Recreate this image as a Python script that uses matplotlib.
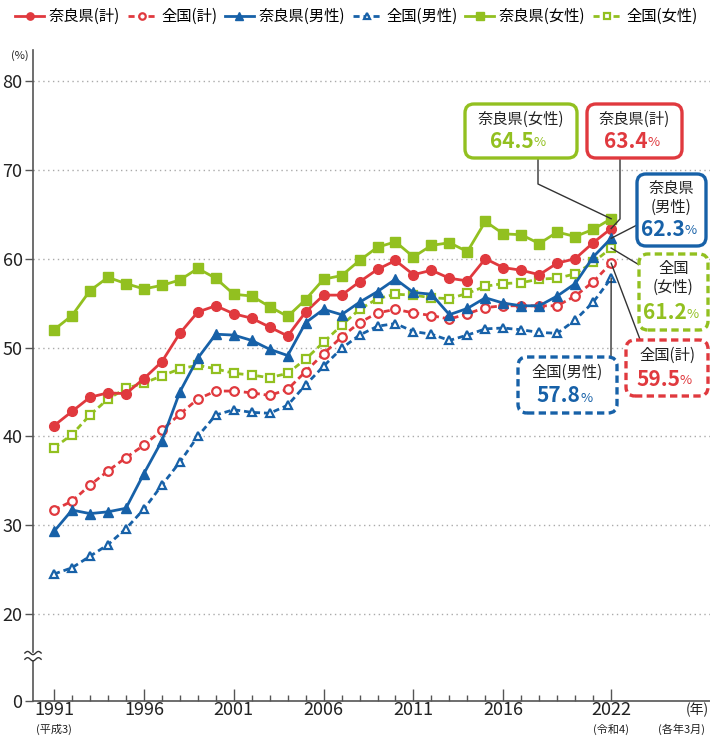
import matplotlib as mp
mp.use('agg')
import matplotlib.pyplot as plt
from matplotlib.lines import Line2D
from matplotlib.patches import FancyBboxPatch, Rectangle
import numpy as np

plt.rcParams['font.family'] = ['Noto Sans CJK JP', 'DejaVu Sans']

# data (%), March of each year
years = list(range(1991, 2023))

nara_total = [41.2, 42.8, 44.4, 44.9, 44.8, 46.5, 48.4, 51.6, 54.0, 54.7,
              53.8, 53.3, 52.3, 51.3, 54.0, 55.9, 55.9, 57.4, 58.8, 59.8,
              58.2, 58.7, 57.8, 57.5, 60.0, 59.0, 58.7, 58.2, 59.5, 60.0,
              61.8, 63.4]
japan_total = [31.7, 32.7, 34.5, 36.1, 37.6, 39.0, 40.7, 42.5, 44.2, 45.1,
               45.1, 44.9, 44.6, 45.3, 47.3, 49.3, 51.2, 52.8, 53.9, 54.3,
               53.9, 53.6, 53.2, 53.8, 54.5, 54.7, 54.7, 54.7, 54.7, 55.8,
               57.4, 59.5]
nara_male = [29.3, 31.7, 31.3, 31.5, 31.9, 35.8, 39.5, 45.0, 48.8, 51.5,
             51.4, 50.8, 49.8, 49.1, 52.8, 54.3, 53.7, 55.1, 56.3, 57.7,
             56.2, 56.0, 53.7, 54.4, 55.6, 55.0, 54.7, 54.7, 55.8, 57.2,
             60.2, 62.3]
japan_male = [24.5, 25.2, 26.5, 27.8, 29.6, 31.8, 34.5, 37.1, 40.0, 42.4,
              43.0, 42.7, 42.6, 43.5, 45.8, 47.9, 49.9, 51.4, 52.4, 52.7,
              51.8, 51.5, 50.8, 51.4, 52.1, 52.2, 52.0, 51.7, 51.6, 53.1,
              55.1, 57.8]
nara_female = [52.0, 53.6, 56.4, 57.9, 57.2, 56.6, 57.0, 57.6, 58.9, 57.8,
               56.0, 55.8, 54.6, 53.5, 55.4, 57.7, 58.1, 59.8, 61.3, 61.9,
               60.2, 61.5, 61.8, 60.8, 64.2, 62.8, 62.7, 61.7, 63.0, 62.5,
               63.3, 64.5]
japan_female = [38.7, 40.2, 42.4, 44.2, 45.4, 46.0, 46.8, 47.6, 48.0, 47.6,
                47.1, 46.9, 46.6, 47.1, 48.7, 50.6, 52.5, 54.3, 55.5, 56.0,
                55.9, 55.6, 55.5, 56.1, 56.9, 57.2, 57.3, 57.7, 57.8, 58.3,
                59.6, 61.2]

labels = ['奈良県(計)', '全国(計)', '奈良県(男性)', '全国(男性)', '奈良県(女性)', '全国(女性)']
major_years = [1991, 1996, 2001, 2006, 2011, 2016, 2022]
ytick_vals = [20, 30, 40, 50, 60, 70, 80]

RED = '#e0393e'
BLUE = '#1761a8'
GREEN = '#92c020'

ZERO_POS = 10.2  # where "0" sits below the axis break

fig = plt.figure(figsize=(7.1, 7.36), dpi=100)
ax = fig.add_axes([33 / 710, 35 / 736, 677 / 710, 651 / 736])

series = [
    (nara_total, RED, 'o', True),
    (japan_total, RED, 'o', False),
    (nara_male, BLUE, '^', True),
    (japan_male, BLUE, '^', False),
    (nara_female, GREEN, 's', True),
    (japan_female, GREEN, 's', False),
]
handles = []
for vals, col, mk, solid in series:
    if solid:
        h, = ax.plot(years, vals, color=col, lw=2.0, marker=mk, ms=7,
                     mfc=col, mec=col, zorder=4, clip_on=False)
    else:
        h, = ax.plot(years, vals, color=col, lw=2.0, marker=mk, ms=6.2,
                     mfc='white', mec=col, mew=1.6, zorder=3,
                     dashes=(2.2, 1.4), clip_on=False)
    handles.append(h)

ax.set_xlim(1989.83, 2027.5)
ax.set_ylim(ZERO_POS, 83.5)

for s in ['top', 'right']:
    ax.spines[s].set_visible(False)
ax.spines['left'].set_color('#555555')
ax.spines['bottom'].set_color('#555555')
ax.spines['left'].set_linewidth(1.2)
ax.spines['bottom'].set_linewidth(1.2)

ax.set_yticks([ZERO_POS] + ytick_vals)
ax.set_yticklabels(['0'] + [str(v) for v in ytick_vals], fontsize=13, color='#222222')
ax.tick_params(axis='y', direction='out', length=6, width=1, color='#555555', pad=1.5)
for v in ytick_vals:
    ax.axhline(v, color='#aaaaaa', lw=1, ls=(0, (1, 2.5)), zorder=1)

ax.set_xticks(major_years)
ax.set_xticklabels([str(y) for y in major_years], fontsize=13, color='#222222')
ax.set_xticks(years, minor=True)
ax.tick_params(axis='x', which='major', direction='in', length=9, width=1, color='#555555', pad=0)
ax.tick_params(axis='x', which='minor', direction='in', length=4, width=1, color='#555555')

# sub labels under the year ticks
xt = ax.get_xaxis_transform()
ax.text(1991, -0.035, '(平成3)', transform=xt, ha='center', va='top', fontsize=8, color='#222222')
ax.text(2022, -0.035, '(令和4)', transform=xt, ha='center', va='top', fontsize=8, color='#222222')
ax.text(2026.8, -0.003, '(年)', transform=xt, ha='center', va='top', fontsize=10, color='#222222')
ax.text(2025.9, -0.035, '(各年3月)', transform=xt, ha='center', va='top', fontsize=8, color='#222222')
fig.text(20 / 710, 1 - 56 / 736, '(%)', ha='center', va='center', fontsize=8, color='#222222')

# axis break mark
tw = ax.get_yaxis_transform()
bx = np.linspace(-0.012, 0.012, 30)
ax.add_patch(Rectangle((-0.012, 14.9), 0.024, 0.7, transform=tw, color='white', zorder=5, clip_on=False))
for yb in (14.9, 15.6):
    ax.plot(bx, yb + 0.18 * np.sin((bx + 0.012) / 0.024 * 2 * np.pi * 1.5), transform=tw,
            color='#333333', lw=1, clip_on=False, zorder=6)

# legend
fig.legend(handles, labels, loc='upper center', bbox_to_anchor=(0.502, 1.008), ncol=6,
           frameon=False, fontsize=11, handlelength=1.9, handletextpad=0.3,
           columnspacing=0.5, markerscale=0.75)

# callouts, positioned in pixels from the top-left corner
def inch(px, py):
    return px / 100, (736 - py) / 100

def marker_px(v):
    dx, dy = ax.transData.transform((2022, v))
    return dx, 736 - dy

callouts = [
    ('奈良県(女性)', nara_female[-1], GREEN, False, (465, 104, 577, 158), [(538, 158), (538, 184)]),
    ('奈良県(計)', nara_total[-1], RED, False, (587, 104, 682, 158), [(620, 158), (620, 219)]),
    ('奈良県\n(男性)', nara_male[-1], BLUE, False, (637, 174, 706, 246), [(637, 225)]),
    ('全国\n(女性)', japan_female[-1], GREEN, True, (639, 254, 708, 330), [(641, 266)]),
    ('全国(計)', japan_total[-1], RED, True, (626, 340, 708, 396), [(641, 342)]),
    ('全国(男性)', japan_male[-1], BLUE, True, (518, 357, 617, 413), [(611, 357)]),
]

for title, val, col, dashed, (x0, y0, x1, y1), path in callouts:
    mx, my = marker_px(val)
    pts = path + [(mx, my)]
    xs = [p[0] / 100 for p in pts]
    ys = [(736 - p[1]) / 100 for p in pts]
    fig.add_artist(Line2D(xs, ys, transform=fig.dpi_scale_trans, color='#333333', lw=1, zorder=2))
    bx0, by0 = inch(x0, y1)
    box = FancyBboxPatch((bx0, by0), (x1 - x0) / 100, (y1 - y0) / 100,
                         boxstyle='round,pad=0,rounding_size=0.09',
                         transform=fig.dpi_scale_trans, fc='white', ec=col, lw=2.4,
                         ls=(0, (2.2, 1.3)) if dashed else '-', zorder=5)
    fig.add_artist(box)
    cx = (x0 + x1) / 2
    nlines = title.count('\n') + 1
    ty = y0 + 6 + 9 * nlines
    fig.text(*inch(cx, ty), title, ha='center', va='center', fontsize=11,
             color='#222222', linespacing=1.1, zorder=6, transform=fig.dpi_scale_trans)
    vy = y1 - 17
    fig.text(*inch(cx + 13, vy), f'{val:.1f}', ha='right', va='center', fontsize=15,
             fontweight='bold', color=col, zorder=6, transform=fig.dpi_scale_trans)
    fig.text(*inch(cx + 13, vy + 2), '%', ha='left', va='center', fontsize=9.5,
             color=col, zorder=6, transform=fig.dpi_scale_trans)

plt.savefig('out.png', dpi=100)
